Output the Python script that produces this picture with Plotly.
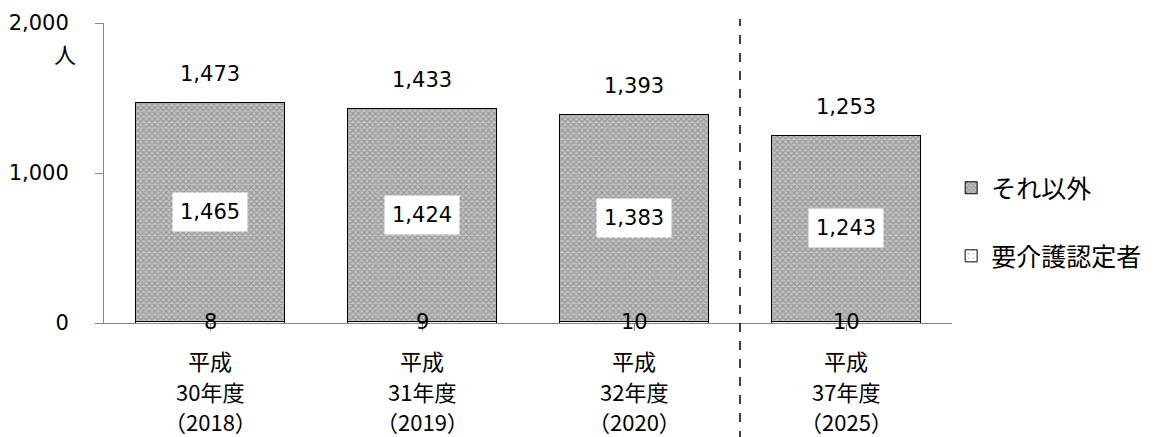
import plotly.graph_objects as go

category_lines = [
    ["平成", "30年度", "（2018）"],
    ["平成", "31年度", "（2019）"],
    ["平成", "32年度", "（2020）"],
    ["平成", "37年度", "（2025）"],
]
care_certified = [8, 9, 10, 10]
others = [1465, 1424, 1383, 1243]
totals = [1473, 1433, 1393, 1253]
y_ticks = [0, 1000, 2000]
y_tick_labels = ["0", "1,000", "2,000"]

CJK = "Noto Sans CJK JP"
NUM = "DejaVu Sans, Noto Sans CJK JP"
x_idx = list(range(len(category_lines)))

fig = go.Figure()
fig.add_trace(go.Bar(
    x=x_idx, y=care_certified, name="要介護認定者",
    marker=dict(color="white", line=dict(color="black", width=1),
                pattern=dict(shape=".", fgcolor="#909090", bgcolor="white", size=6, solidity=0.15)),
    legend="legend2", width=0.70,
))
fig.add_trace(go.Bar(
    x=x_idx, y=others, name="それ以外",
    marker=dict(color="#a0a0a0", line=dict(color="black", width=1),
                pattern=dict(shape="x", fgcolor="#6a6a6a", bgcolor="#c4c4c4", size=4, solidity=0.5)),
    legend="legend", width=0.70,
))

def fmt(v):
    return f"{v:,}"

line_shifts = [-37, -68, -98]
for i in x_idx:
    fig.add_annotation(x=i, y=totals[i], text=fmt(totals[i]), showarrow=False,
                       yshift=28, yanchor="middle", font=dict(family=NUM, size=21, color="black"))
    fig.add_annotation(x=i, y=care_certified[i] + others[i] / 2, text=fmt(others[i]), showarrow=False,
                       yanchor="middle", bgcolor="white", borderpad=7,
                       font=dict(family=NUM, size=21, color="black"))
    fig.add_annotation(x=i, y=care_certified[i] / 2, text=fmt(care_certified[i]), showarrow=False,
                       yanchor="middle", font=dict(family=NUM, size=21, color="black"))
    for k, line in enumerate(category_lines[i]):
        fig.add_annotation(x=i, xref="x", yref="paper", y=0, yshift=line_shifts[k], yanchor="middle",
                           text=line, showarrow=False, font=dict(family=CJK, size=22, color="black"))

fig.add_annotation(xref="paper", yref="y", x=-0.046, y=2000, text="人", showarrow=False,
                   yshift=-30, xanchor="center", yanchor="middle",
                   font=dict(family=CJK, size=22, color="black"))

n = len(category_lines)
sep = (2.5 + 0.5) / n
fig.add_shape(type="line", xref="paper", yref="paper", x0=sep, x1=sep, y0=-0.39, y1=1.013,
              line=dict(color="black", width=1.5, dash="dash"))

# the page body adds an 8px offset; compensate so the plot lands where the reference has it
fig.update_layout(
    barmode="stack",
    width=1153, height=429,
    margin=dict(l=96, r=209, t=15, b=114),
    paper_bgcolor="white", plot_bgcolor="white",
    font=dict(family=NUM, size=21, color="black"),
    showlegend=True,
    legend=dict(x=0.999, y=0.45, xanchor="left", yanchor="middle", font=dict(family=CJK, size=25),
                itemwidth=30, bgcolor="rgba(0,0,0,0)"),
    legend2=dict(x=0.999, y=0.223, xanchor="left", yanchor="middle", font=dict(family=CJK, size=25),
                 itemwidth=30, bgcolor="rgba(0,0,0,0)"),
    xaxis=dict(tickmode="array", tickvals=x_idx, ticktext=[""] * n, range=[-0.5, 3.5],
               showline=True, linecolor="#868686", linewidth=1, ticks="outside", tickson="boundaries",
               ticklen=7, tickcolor="#868686", showgrid=False, zeroline=False, automargin=False),
    yaxis=dict(range=[0, 2000], tickvals=y_ticks, ticktext=y_tick_labels, showline=True,
               linecolor="#868686", linewidth=1, ticks="outside", ticklen=8, tickcolor="#868686",
               showgrid=False, zeroline=False, ticklabelstandoff=22, automargin=False,
               tickfont=dict(family=NUM, size=21)),
)

fig.write_html("out.html")
